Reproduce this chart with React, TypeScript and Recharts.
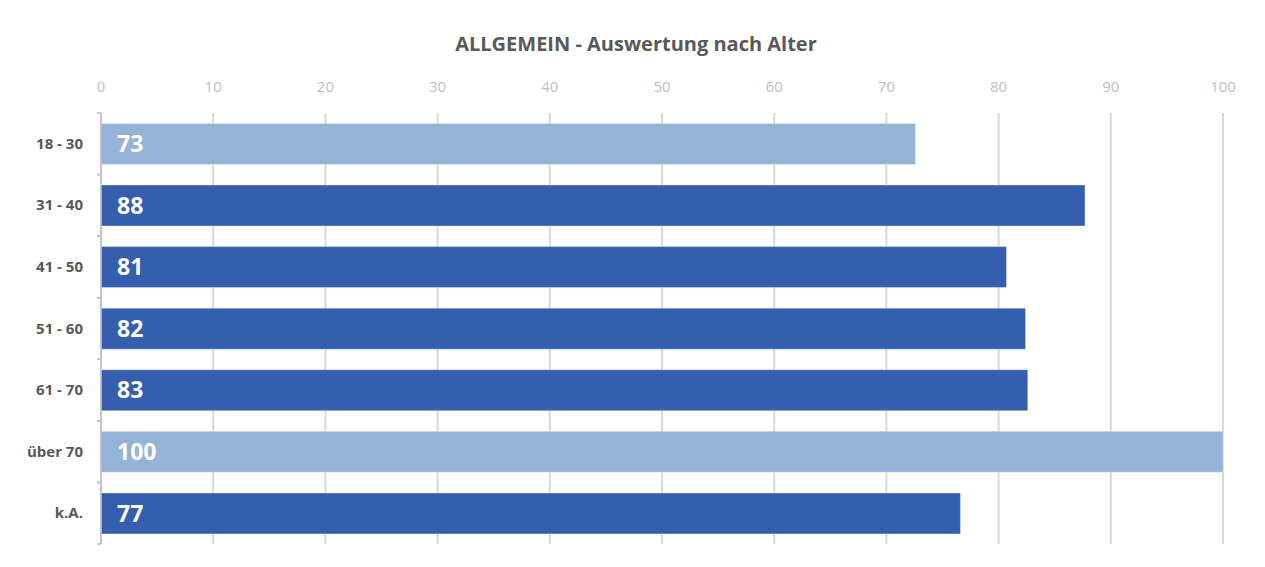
import { Bar, BarChart, CartesianGrid, Cell, Customized, LabelList, XAxis, YAxis } from 'recharts'

const ageGroups = ['18 - 30', '31 - 40', '41 - 50', '51 - 60', '61 - 70', 'über 70', 'k.A.']
const scores = [72.6, 87.7, 80.7, 82.4, 82.6, 100, 76.6]
const barColors = ['#95b3d7', '#365eaf', '#365eaf', '#365eaf', '#365eaf', '#95b3d7', '#365eaf']
const xTicks = [0, 10, 20, 30, 40, 50, 60, 70, 80, 90, 100]

const data = ageGroups.map((group, i) => ({ group, score: scores[i], color: barColors[i] }))

// the chart fills the whole window; the page margin is cancelled on the wrapper
const CHART_W = 1265
const CHART_H = 567
const PLOT_LEFT = 101
const PLOT_RIGHT = 1223
const PLOT_TOP = 113
const PLOT_BOTTOM = 544
const band = (PLOT_BOTTOM - PLOT_TOP) / ageGroups.length

function AgeTick(props: any) {
  const { x, y, payload } = props
  const axisX = x + 8
  return (
    <g>
      <line x1={axisX - 4} x2={axisX} y1={y - band / 2} y2={y - band / 2} stroke="#bfbfbf" strokeWidth={1.5} />
      <line x1={axisX - 4} x2={axisX} y1={y + band / 2} y2={y + band / 2} stroke="#bfbfbf" strokeWidth={1.5} />
      <text x={axisX - 18} y={y} dy={5} textAnchor="end" fontSize={15} fontWeight={700} fill="#595959">
        {payload.value}
      </text>
    </g>
  )
}

function Frame() {
  return <rect x={7} y={7} width={CHART_W + 20} height={CHART_H + 20} fill="none" stroke="#d4d4d4" strokeWidth={2} />
}

export default function App() {
  return (
    <div
      style={{
        position: 'relative',
        width: CHART_W,
        height: CHART_H,
        margin: '-8px 0 0 -8px',
        background: '#fff',
        fontFamily: '"Open Sans", sans-serif',
      }}
    >
      <div
        style={{
          position: 'absolute',
          top: 30,
          left: 8,
          width: 1256,
          textAlign: 'center',
          fontSize: 20,
          fontWeight: 700,
          color: '#595959',
          zIndex: 1,
        }}
      >
        ALLGEMEIN - Auswertung nach Alter
      </div>
      <BarChart
        width={CHART_W}
        height={CHART_H}
        data={data}
        layout="vertical"
        margin={{ top: PLOT_TOP - 30, right: CHART_W - PLOT_RIGHT, bottom: CHART_H - PLOT_BOTTOM, left: PLOT_LEFT - 93 }}
        barCategoryGap="17%"
      >
        <Customized component={<Frame />} />
        <CartesianGrid horizontal={false} stroke="#d9d9d9" strokeWidth={2} />
        <XAxis
          type="number"
          orientation="top"
          domain={[0, 100]}
          ticks={xTicks}
          height={30}
          axisLine={false}
          tickLine={false}
          tickSize={6}
          tickMargin={15}
          tick={{ fontSize: 15, fill: '#bfbfbf' }}
        />
        <YAxis
          type="category"
          dataKey="group"
          width={93}
          axisLine={{ stroke: '#bfbfbf', strokeWidth: 1.5 }}
          tickLine={false}
          tickSize={4}
          tickMargin={4}
          tick={<AgeTick />}
        />
        <Bar dataKey="score" isAnimationActive={false} stroke="#ffffff" strokeOpacity={0.35}>
          {data.map((d) => (
            <Cell key={d.group} fill={d.color} />
          ))}
          <LabelList
            dataKey="score"
            position="insideLeft"
            offset={16}
            formatter={(v: any) => Math.round(Number(v))}
            style={{ fill: '#ffffff', fontSize: 23, fontWeight: 700 }}
          />
        </Bar>
      </BarChart>
    </div>
  )
}
